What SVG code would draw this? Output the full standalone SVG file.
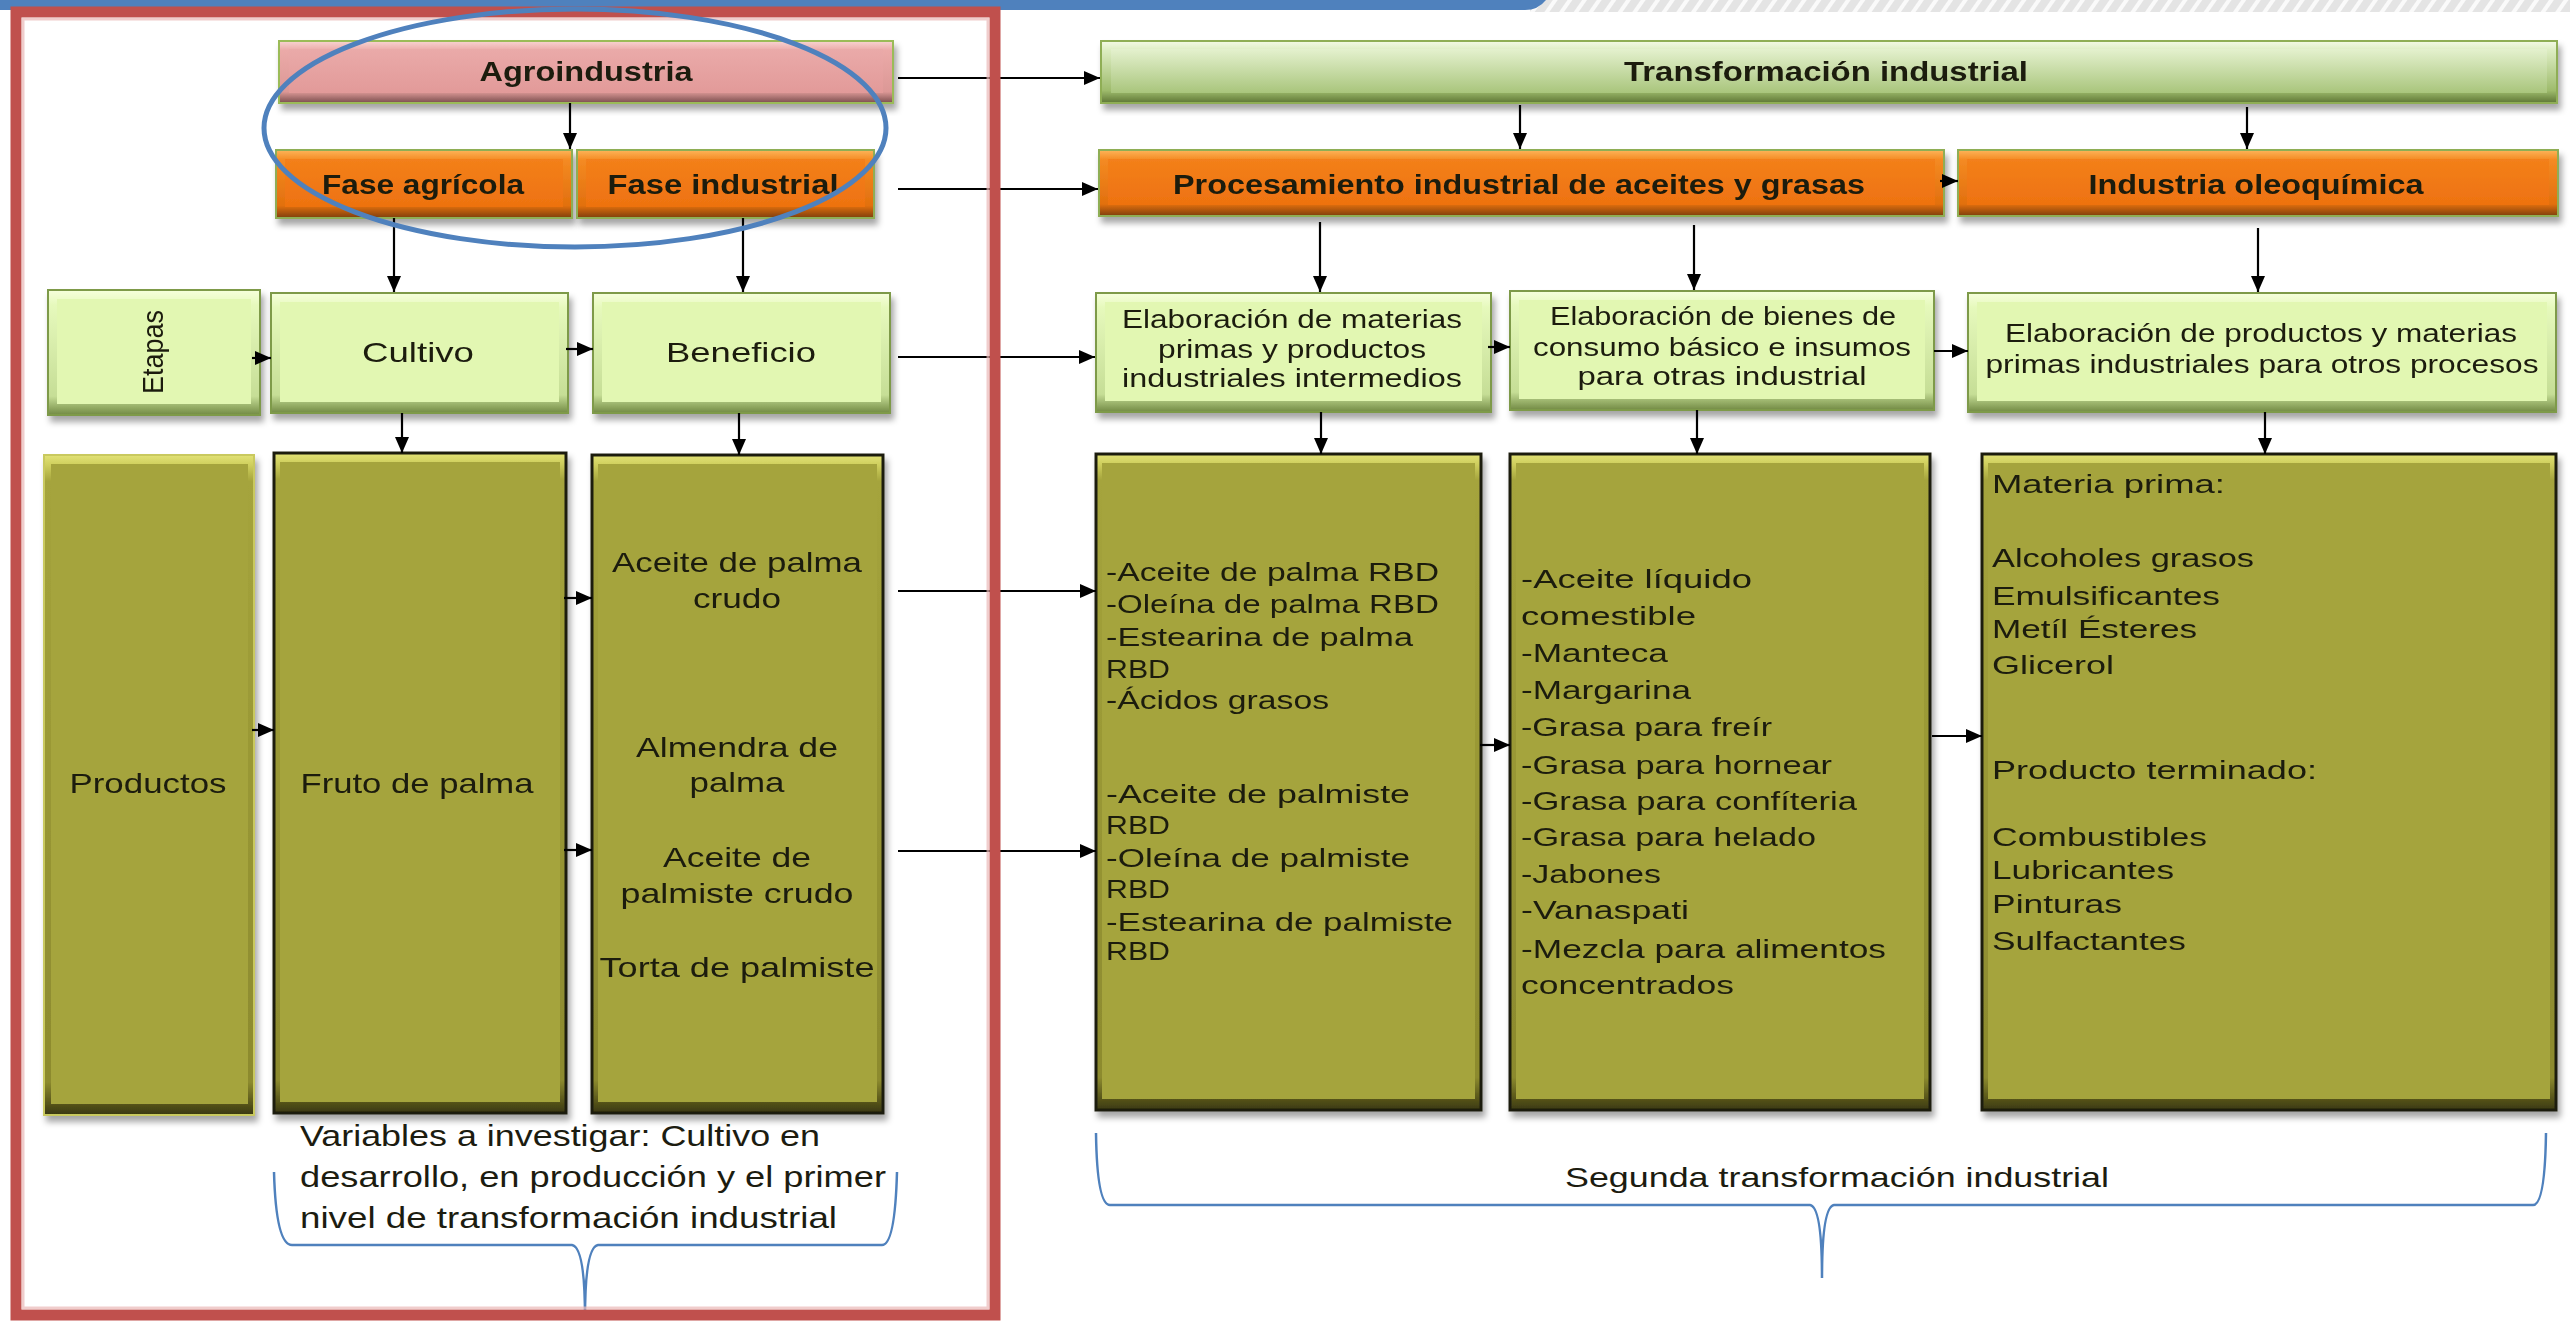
<svg xmlns="http://www.w3.org/2000/svg" width="2570" height="1322" viewBox="0 0 2570 1322">
<defs>
<style>
text{font-family:"Liberation Sans",Arial,sans-serif;fill:#1c1c10}
.h{font-size:28px;font-weight:bold;text-anchor:middle}
.m{font-size:28px;text-anchor:middle}
.s{font-size:25px;text-anchor:middle}
.l{font-size:26px}
.conn path{fill:none;stroke:#000;stroke-width:2.2;marker-end:url(#ah)}
.pkO{fill:url(#gPkO);stroke:#9BBB59;stroke-width:2}
.pkI{fill:url(#gPkI)}
.orO{fill:url(#gOrO);stroke:#8FAE55;stroke-width:2}
.orI{fill:url(#gOrI)}
.trO{fill:url(#gTrO);stroke:#8FAE55;stroke-width:2}
.trI{fill:url(#gTrI)}
.lgO{fill:url(#gLgO);stroke:#7E9A48;stroke-width:2}
.lgI{fill:#E2F7B2}
.olO{fill:url(#gOlO);stroke:#1e1e10;stroke-width:3}
.olI{fill:#A5A43C}
.brace{fill:none;stroke:#4F81BD;stroke-width:2.5}
</style>
<linearGradient id="gPkO" x1="0" y1="0" x2="0" y2="1"><stop offset="0" stop-color="#F8D4D2"/><stop offset="0.15" stop-color="#EBAAA8"/><stop offset="0.82" stop-color="#DC9896"/><stop offset="1" stop-color="#7A4E4E"/></linearGradient>
<linearGradient id="gPkI" x1="0" y1="0" x2="0" y2="1"><stop offset="0" stop-color="#EAAAA9"/><stop offset="1" stop-color="#E29A99"/></linearGradient>
<linearGradient id="gOrO" x1="0" y1="0" x2="0" y2="1"><stop offset="0" stop-color="#FDB55A"/><stop offset="0.15" stop-color="#F48A22"/><stop offset="0.82" stop-color="#E2700E"/><stop offset="1" stop-color="#7E3E06"/></linearGradient>
<linearGradient id="gOrI" x1="0" y1="0" x2="0" y2="1"><stop offset="0" stop-color="#F3801A"/><stop offset="1" stop-color="#EE7210"/></linearGradient>
<linearGradient id="gTrO" x1="0" y1="0" x2="0" y2="1"><stop offset="0" stop-color="#F4FAE6"/><stop offset="0.15" stop-color="#DDEDC2"/><stop offset="0.8" stop-color="#9EBB6C"/><stop offset="1" stop-color="#5E7636"/></linearGradient>
<linearGradient id="gTrI" x1="0" y1="0" x2="0" y2="1"><stop offset="0" stop-color="#E4F1CE"/><stop offset="1" stop-color="#A9C57C"/></linearGradient>
<linearGradient id="gLgO" x1="0" y1="0" x2="0" y2="1"><stop offset="0" stop-color="#F6FFDC"/><stop offset="0.12" stop-color="#E6F9BC"/><stop offset="0.85" stop-color="#C6DE96"/><stop offset="1" stop-color="#728A44"/></linearGradient>
<linearGradient id="gOlO" x1="0" y1="0" x2="0" y2="1"><stop offset="0" stop-color="#E2E276"/><stop offset="0.015" stop-color="#CFCF5E"/><stop offset="0.04" stop-color="#A5A43C"/><stop offset="0.95" stop-color="#8C8A2E"/><stop offset="1" stop-color="#3A3810"/></linearGradient>
<filter id="sh" x="-5%" y="-5%" width="112%" height="125%"><feDropShadow dx="3" dy="6" stdDeviation="3" flood-color="#000" flood-opacity="0.35"/></filter>
<marker id="ah" markerWidth="16" markerHeight="14" refX="16" refY="7" orient="auto" markerUnits="userSpaceOnUse"><path d="M0,0 L16,7 L0,14 Z" fill="#000"/></marker>
<pattern id="hatch" width="12" height="12" patternUnits="userSpaceOnUse" patternTransform="rotate(35)"><rect width="12" height="12" fill="#E4E4E4"/><rect width="4" height="12" fill="#FAFAFA"/></pattern>
</defs>
<rect width="2570" height="1322" fill="#fff"/>
<rect x="1530" y="0" width="1040" height="12" fill="url(#hatch)"/>
<path d="M0,0 H1546 Q1538,10 1525,10 H0 Z" fill="#4F81BD"/>

<g id="agroindustria" filter="url(#sh)"><rect class="pkO" x="279" y="41" width="614" height="62"/><rect class="pkI" x="289" y="49" width="594" height="44"/><text class="h" x="586" y="81" textLength="213" lengthAdjust="spacingAndGlyphs">Agroindustria</text></g>
<g id="fase-agricola" filter="url(#sh)"><rect class="orO" x="276" y="150" width="296" height="68"/><rect class="orI" x="285" y="159" width="278" height="48"/><text class="h" x="423" y="194" textLength="202" lengthAdjust="spacingAndGlyphs">Fase agrícola</text></g>
<g id="fase-industrial" filter="url(#sh)"><rect class="orO" x="577" y="150" width="297" height="68"/><rect class="orI" x="586" y="159" width="279" height="48"/><text class="h" x="723" y="194" textLength="231" lengthAdjust="spacingAndGlyphs">Fase industrial</text></g>
<g id="transformacion" filter="url(#sh)"><rect class="trO" x="1101" y="41" width="1456" height="62"/><rect class="trI" x="1111" y="49" width="1436" height="44"/><text class="h" x="1826" y="81" textLength="404" lengthAdjust="spacingAndGlyphs">Transformación industrial</text></g>
<g id="procesamiento" filter="url(#sh)"><rect class="orO" x="1099" y="150" width="845" height="66"/><rect class="orI" x="1108" y="159" width="827" height="46"/><text class="h" x="1519" y="194" textLength="692" lengthAdjust="spacingAndGlyphs">Procesamiento industrial de aceites y grasas</text></g>
<g id="oleoquimica" filter="url(#sh)"><rect class="orO" x="1958" y="150" width="600" height="66"/><rect class="orI" x="1967" y="159" width="582" height="46"/><text class="h" x="2256" y="194" textLength="335" lengthAdjust="spacingAndGlyphs">Industria oleoquímica</text></g>

<g id="etapas" filter="url(#sh)"><rect class="lgO" x="48" y="290" width="212" height="125"/><rect class="lgI" x="57" y="299" width="194" height="105"/><text class="s" style="font-size:30px" transform="translate(163,352) rotate(-90)" x="0" y="0" textLength="84" lengthAdjust="spacingAndGlyphs">Etapas</text></g>
<g id="cultivo" filter="url(#sh)"><rect class="lgO" x="271" y="293" width="297" height="120"/><rect class="lgI" x="280" y="302" width="279" height="100"/><text class="m" x="418" y="362" textLength="112" lengthAdjust="spacingAndGlyphs">Cultivo</text></g>
<g id="beneficio" filter="url(#sh)"><rect class="lgO" x="593" y="293" width="297" height="120"/><rect class="lgI" x="602" y="302" width="279" height="100"/><text class="m" x="741" y="362" textLength="150" lengthAdjust="spacingAndGlyphs">Beneficio</text></g>
<g id="elab-materias" filter="url(#sh)"><rect class="lgO" x="1096" y="293" width="395" height="119"/><rect class="lgI" x="1105" y="302" width="377" height="99"/>
<text class="s" x="1292" y="328" textLength="340" lengthAdjust="spacingAndGlyphs">Elaboración de materias</text>
<text class="s" x="1292" y="358" textLength="268" lengthAdjust="spacingAndGlyphs">primas y productos</text>
<text class="s" x="1292" y="387" textLength="340" lengthAdjust="spacingAndGlyphs">industriales intermedios</text></g>
<g id="elab-bienes" filter="url(#sh)"><rect class="lgO" x="1510" y="291" width="424" height="119"/><rect class="lgI" x="1519" y="300" width="406" height="99"/>
<text class="s" x="1723" y="325" textLength="346" lengthAdjust="spacingAndGlyphs">Elaboración de bienes de</text>
<text class="s" x="1722" y="356" textLength="378" lengthAdjust="spacingAndGlyphs">consumo básico e insumos</text>
<text class="s" x="1722" y="385" textLength="289" lengthAdjust="spacingAndGlyphs">para otras industrial</text></g>
<g id="elab-productos" filter="url(#sh)"><rect class="lgO" x="1968" y="293" width="588" height="119"/><rect class="lgI" x="1977" y="302" width="570" height="99"/>
<text class="s" x="2261" y="342" textLength="512" lengthAdjust="spacingAndGlyphs">Elaboración de productos y materias</text>
<text class="s" x="2262" y="373" textLength="553" lengthAdjust="spacingAndGlyphs">primas industriales para otros procesos</text></g>

<g id="productos" filter="url(#sh)"><rect x="44" y="455" width="210" height="660" fill="url(#gOlO)" stroke="#C9C95E" stroke-width="2"/><rect class="olI" x="51" y="464" width="197" height="640"/><text class="m" x="148" y="793" textLength="157" lengthAdjust="spacingAndGlyphs">Productos</text></g>
<g id="fruto" filter="url(#sh)"><rect class="olO" x="274" y="453" width="292" height="660"/><rect class="olI" x="280" y="462" width="280" height="640"/><text class="m" x="417" y="793" textLength="233" lengthAdjust="spacingAndGlyphs">Fruto de palma</text></g>
<g id="beneficio-productos" filter="url(#sh)"><rect class="olO" x="592" y="455" width="291" height="658"/><rect class="olI" x="598" y="464" width="279" height="638"/>
<text class="m" x="737" y="572" textLength="250" lengthAdjust="spacingAndGlyphs">Aceite de palma</text>
<text class="m" x="737" y="608" textLength="88" lengthAdjust="spacingAndGlyphs">crudo</text>
<text class="m" x="737" y="757" textLength="202" lengthAdjust="spacingAndGlyphs">Almendra de</text>
<text class="m" x="737" y="792" textLength="95" lengthAdjust="spacingAndGlyphs">palma</text>
<text class="m" x="737" y="867" textLength="148" lengthAdjust="spacingAndGlyphs">Aceite de</text>
<text class="m" x="737" y="903" textLength="233" lengthAdjust="spacingAndGlyphs">palmiste crudo</text>
<text class="m" x="737" y="977" textLength="275" lengthAdjust="spacingAndGlyphs">Torta de palmiste</text></g>
<g id="materias-primas-productos" filter="url(#sh)"><rect class="olO" x="1096" y="454" width="385" height="656"/><rect class="olI" x="1102" y="463" width="373" height="636"/>
<g class="l">
<text x="1106" y="581" textLength="333" lengthAdjust="spacingAndGlyphs">-Aceite de palma RBD</text>
<text x="1106" y="613" textLength="333" lengthAdjust="spacingAndGlyphs">-Oleína de palma RBD</text>
<text x="1106" y="646" textLength="307" lengthAdjust="spacingAndGlyphs">-Estearina de palma</text>
<text x="1106" y="678" textLength="64" lengthAdjust="spacingAndGlyphs">RBD</text>
<text x="1106" y="709" textLength="223" lengthAdjust="spacingAndGlyphs">-Ácidos grasos</text>
<text x="1106" y="803" textLength="304" lengthAdjust="spacingAndGlyphs">-Aceite de palmiste</text>
<text x="1106" y="834" textLength="64" lengthAdjust="spacingAndGlyphs">RBD</text>
<text x="1106" y="867" textLength="304" lengthAdjust="spacingAndGlyphs">-Oleína de palmiste</text>
<text x="1106" y="898" textLength="64" lengthAdjust="spacingAndGlyphs">RBD</text>
<text x="1106" y="931" textLength="347" lengthAdjust="spacingAndGlyphs">-Estearina de palmiste</text>
<text x="1106" y="960" textLength="64" lengthAdjust="spacingAndGlyphs">RBD</text>
</g></g>
<g id="bienes-consumo" filter="url(#sh)"><rect class="olO" x="1510" y="454" width="420" height="656"/><rect class="olI" x="1516" y="463" width="408" height="636"/>
<g class="l">
<text x="1521" y="588" textLength="231" lengthAdjust="spacingAndGlyphs">-Aceite líquido</text>
<text x="1521" y="625" textLength="175" lengthAdjust="spacingAndGlyphs">comestible</text>
<text x="1521" y="662" textLength="147" lengthAdjust="spacingAndGlyphs">-Manteca</text>
<text x="1521" y="699" textLength="170" lengthAdjust="spacingAndGlyphs">-Margarina</text>
<text x="1521" y="736" textLength="251" lengthAdjust="spacingAndGlyphs">-Grasa para freír</text>
<text x="1521" y="774" textLength="311" lengthAdjust="spacingAndGlyphs">-Grasa para hornear</text>
<text x="1521" y="810" textLength="336" lengthAdjust="spacingAndGlyphs">-Grasa para confíteria</text>
<text x="1521" y="846" textLength="295" lengthAdjust="spacingAndGlyphs">-Grasa para helado</text>
<text x="1521" y="883" textLength="140" lengthAdjust="spacingAndGlyphs">-Jabones</text>
<text x="1521" y="919" textLength="168" lengthAdjust="spacingAndGlyphs">-Vanaspati</text>
<text x="1521" y="958" textLength="365" lengthAdjust="spacingAndGlyphs">-Mezcla para alimentos</text>
<text x="1521" y="994" textLength="213" lengthAdjust="spacingAndGlyphs">concentrados</text>
</g></g>
<g id="oleoquimicos" filter="url(#sh)"><rect class="olO" x="1982" y="454" width="574" height="656"/><rect class="olI" x="1988" y="463" width="562" height="636"/>
<g class="l">
<text x="1992" y="493" textLength="233" lengthAdjust="spacingAndGlyphs">Materia prima:</text>
<text x="1992" y="567" textLength="262" lengthAdjust="spacingAndGlyphs">Alcoholes grasos</text>
<text x="1992" y="605" textLength="228" lengthAdjust="spacingAndGlyphs">Emulsificantes</text>
<text x="1992" y="638" textLength="205" lengthAdjust="spacingAndGlyphs">Metíl Ésteres</text>
<text x="1992" y="674" textLength="122" lengthAdjust="spacingAndGlyphs">Glicerol</text>
<text x="1992" y="779" textLength="325" lengthAdjust="spacingAndGlyphs">Producto terminado:</text>
<text x="1992" y="846" textLength="215" lengthAdjust="spacingAndGlyphs">Combustibles</text>
<text x="1992" y="879" textLength="182" lengthAdjust="spacingAndGlyphs">Lubricantes</text>
<text x="1992" y="913" textLength="130" lengthAdjust="spacingAndGlyphs">Pinturas</text>
<text x="1992" y="950" textLength="194" lengthAdjust="spacingAndGlyphs">Sulfactantes</text>
</g></g>

<g id="connectors" class="conn">
<path d="M570,103 V149"/>
<path d="M898,78 H1100"/>
<path d="M898,189 H1098"/>
<path d="M1520,105 V149"/>
<path d="M2247,107 V149"/>
<path d="M1940,181 H1958"/>
<path d="M394,218 V292"/>
<path d="M743,218 V292"/>
<path d="M252,358 H271"/>
<path d="M566,349 H593"/>
<path d="M898,357 H1095"/>
<path d="M1320,222 V292"/>
<path d="M1694,225 V290"/>
<path d="M2258,228 V292"/>
<path d="M1488,347 H1510"/>
<path d="M1934,351 H1968"/>
<path d="M402,413 V453"/>
<path d="M739,413 V455"/>
<path d="M1321,412 V454"/>
<path d="M1697,410 V454"/>
<path d="M2265,412 V454"/>
<path d="M252,730 H274"/>
<path d="M564,598 H592"/>
<path d="M564,850 H592"/>
<path d="M898,591 H1096"/>
<path d="M898,851 H1096"/>
<path d="M1480,745 H1510"/>
<path d="M1932,736 H1982"/>
</g>

<g id="nota-primera">
<text x="300" y="1146" style="font-size:29px" textLength="520" lengthAdjust="spacingAndGlyphs">Variables a investigar: Cultivo en</text>
<text x="300" y="1187" style="font-size:29px" textLength="586" lengthAdjust="spacingAndGlyphs">desarrollo, en producción y el primer</text>
<text x="300" y="1228" style="font-size:29px" textLength="537" lengthAdjust="spacingAndGlyphs">nivel de transformación industrial</text>
<path class="brace" d="M274,1172 Q276,1245 292,1245 L572,1245 Q585,1247 585,1318 Q585,1247 598,1245 L882,1245 Q895,1245 897,1172"/>
</g>
<g id="nota-segunda">
<text class="m" x="1837" y="1187" textLength="544" lengthAdjust="spacingAndGlyphs">Segunda transformación industrial</text>
<path class="brace" d="M1096,1133 Q1097,1205 1110,1205 L1810,1205 Q1822,1207 1822,1278 Q1822,1207 1834,1205 L2533,1205 Q2545,1205 2546,1133"/>
</g>

<rect id="marco" x="16" y="12" width="979" height="1303" fill="none" stroke="#C0504D" stroke-width="11"/>
<rect x="23" y="19" width="965" height="1289" fill="none" stroke="#E9B8B6" stroke-width="3" opacity="0.7"/>
<ellipse id="elipse" cx="575" cy="128" rx="311" ry="119" fill="none" stroke="#4F81BD" stroke-width="5"/>
</svg>
